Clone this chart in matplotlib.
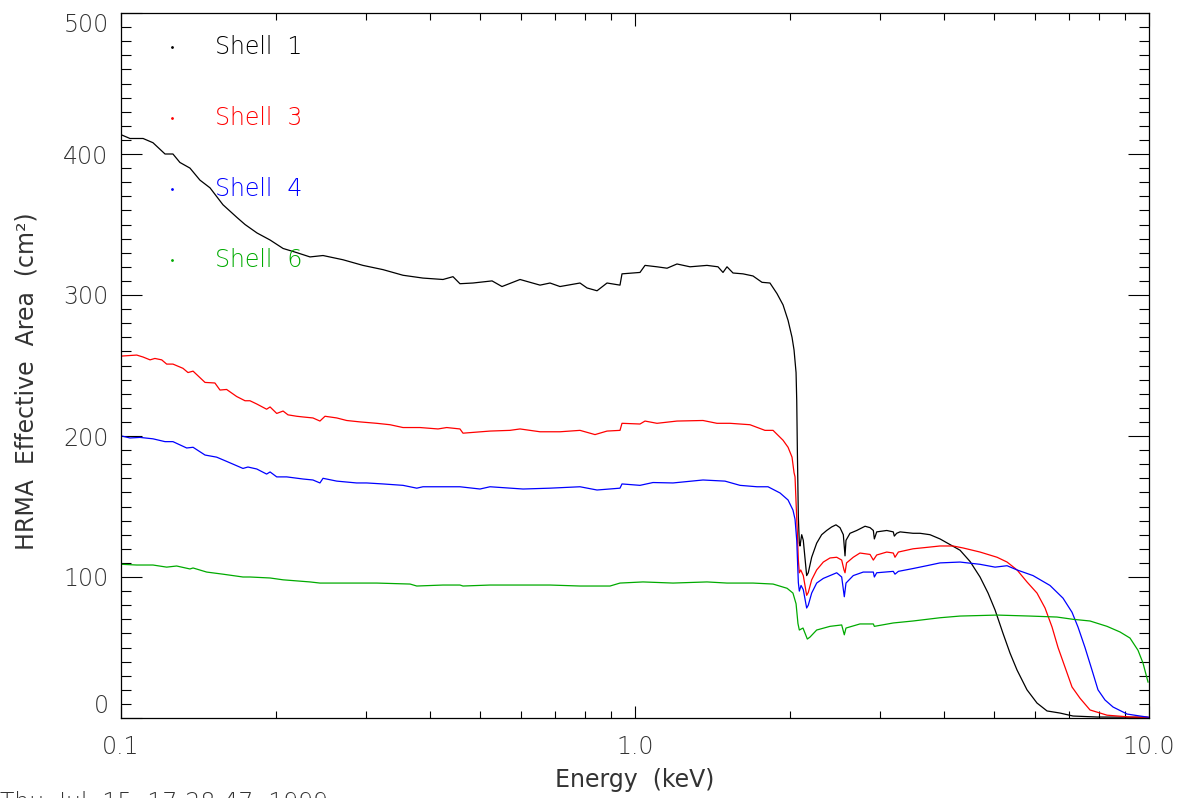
import matplotlib
matplotlib.use('Agg')
import matplotlib.pyplot as plt
from matplotlib.ticker import FixedLocator, NullFormatter
from matplotlib import font_manager as fm

# ---------------- data ----------------
e1 = [0.1003, 0.1041, 0.1104, 0.1154, 0.1218, 0.1262, 0.1302, 0.1362, 0.1424, 0.1490,
      0.1579, 0.1681, 0.1743, 0.1839, 0.1950, 0.2067, 0.2200, 0.2332, 0.2472, 0.2703,
      0.2956, 0.3233, 0.3537, 0.3868, 0.4231, 0.4425, 0.4565, 0.4839, 0.5271, 0.5511,
      0.5975, 0.6535, 0.6834, 0.7146, 0.7816, 0.8066, 0.8436, 0.8822, 0.9350, 0.9434,
      1.0226, 1.0459, 1.1036, 1.1544, 1.2069, 1.2794, 1.3806, 1.4503, 1.4832, 1.5101,
      1.5513, 1.6222, 1.6965, 1.7662, 1.8305, 1.8890, 1.9409, 1.9851, 2.0207, 2.0390,
      2.0575, 2.0638, 2.0695, 2.0787, 2.0879, 2.0941, 2.1102, 2.1253, 2.1576, 2.1732,
      2.2066, 2.2566, 2.3076, 2.3600, 2.4134, 2.4604, 2.5049, 2.5427, 2.5621, 2.5733,
      2.6200, 2.7000, 2.8027, 2.8660, 2.9086, 2.9219, 2.9530, 3.0888, 3.1806, 3.1951,
      3.2291, 3.279, 3.4748, 3.585, 3.749, 3.921, 4.101, 4.289, 4.486, 4.691,
      4.863, 5.018, 5.200, 5.366, 5.537, 5.789, 6.055, 6.333, 6.714, 7.115,
      7.925, 9.911]
a1 = [413.5, 411, 411, 408, 400, 400, 394, 390, 381.5, 376,
      364, 355, 350, 344, 339, 333, 330, 327, 328, 325,
      321, 318, 314, 312, 311, 313, 308, 308.5, 310, 306,
      311, 307, 308.5, 306, 308.5, 305, 303, 308.5, 307, 315,
      316, 321, 320, 319, 322, 320, 321, 320, 316, 320,
      315.6, 315, 313.5, 309, 308.5, 301, 293, 282, 270, 261,
      245, 225, 190, 142.5, 124, 122, 130, 126, 101, 103,
      114, 124, 130, 133, 135.5, 137, 135, 130, 115, 126,
      131, 133, 136, 135, 133, 127, 132, 133, 132, 129,
      131, 132, 131, 131, 130, 127, 123, 119, 111, 100,
      88.6, 76.6, 60, 46, 34, 20, 10.6, 5, 3.5, 1.4,
      0.7, 0.5]

e3 = [0.1003, 0.1073, 0.1104, 0.1139, 0.1164, 0.1200, 0.1227, 0.1262, 0.1320, 0.1350,
      0.1381, 0.1457, 0.1523, 0.1558, 0.1605, 0.1679, 0.1743, 0.1782, 0.1837, 0.1920,
      0.1950, 0.2009, 0.2067, 0.2113, 0.2197, 0.2260, 0.2363, 0.2438, 0.2494, 0.2629,
      0.2748, 0.2917, 0.3144, 0.3337, 0.3537, 0.3818, 0.4138, 0.4302, 0.4565, 0.4628,
      0.5223, 0.5711, 0.5975, 0.6535, 0.7146, 0.7816, 0.8360, 0.8822, 0.9350, 0.9434,
      1.0226, 1.0459, 1.1036, 1.2069, 1.3561, 1.4436, 1.5305, 1.6736, 1.7900, 1.8560,
      1.9409, 1.9851, 2.0207, 2.0390, 2.0481, 2.0575, 2.0695, 2.0787, 2.0879, 2.1010,
      2.1253, 2.1576, 2.1732, 2.2066, 2.2566, 2.3246, 2.3953, 2.4683, 2.5241, 2.5504,
      2.5621, 2.5800, 2.6584, 2.7393, 2.8660, 2.9086, 2.9530, 3.0888, 3.1806, 3.205,
      3.254, 3.4748, 3.694, 3.921, 4.156, 4.347, 4.691, 5.063, 5.295, 5.537,
      5.789, 6.055, 6.277, 6.477, 6.653, 6.865, 7.083, 7.342, 7.678, 8.286,
      9.184, 10.0]
a3 = [256.7, 257.4, 256, 254, 255, 254, 251, 251, 248, 245,
      246, 238, 237.6, 232.6, 233, 228, 225, 225, 222.7, 219,
      220.6, 216, 217.7, 215, 214, 213.5, 212.8, 210.6, 214, 212.8,
      211, 210, 209, 208, 206, 206, 205, 206, 205, 202,
      203.5, 204, 205, 203, 203, 204, 201, 203.5, 204, 209,
      208.5, 210.6, 209, 210.6, 211, 209, 209, 208, 204, 204,
      197, 192, 185, 174, 171, 153, 131, 112, 103, 105,
      101, 87, 89, 98, 105, 110.6, 113.5, 114, 112, 105,
      103, 110, 114, 117, 116, 112, 115.6, 117.7, 117, 114,
      117.7, 120, 121, 122, 122, 120.6, 117.7, 114, 110.6, 105,
      96.5, 88.6, 78, 64.5, 50, 36, 22, 14, 5.7, 2,
      0.7, 0.5]

e4 = [0.1003, 0.1041, 0.1089, 0.1154, 0.1218, 0.1262, 0.1342, 0.1381, 0.1457, 0.1535,
      0.1605, 0.1727, 0.1766, 0.1837, 0.1920, 0.1950, 0.2009, 0.2101, 0.2260, 0.2363,
      0.2438, 0.2472, 0.2629, 0.2873, 0.3006, 0.3233, 0.3537, 0.3762, 0.3868, 0.4231,
      0.4565, 0.4994, 0.5223, 0.6055, 0.6834, 0.7816, 0.8436, 0.9350, 0.9434, 1.0226,
      1.0839, 1.1856, 1.3561, 1.4966, 1.6006, 1.7272, 1.8145, 1.9149, 1.9851, 2.0290,
      2.0481, 2.0638, 2.0787, 2.0879, 2.1040, 2.1253, 2.1576, 2.1732, 2.2066, 2.2566,
      2.3246, 2.3953, 2.4683, 2.5241, 2.5539, 2.5733, 2.6584, 2.7800, 2.9086, 2.9219,
      2.9530, 3.1806, 3.205, 3.254, 3.4748, 3.694, 3.921, 4.289, 4.691, 5.018,
      5.295, 5.537, 5.948, 6.418, 6.803, 7.083, 7.276, 7.507, 7.746, 7.957,
      8.210, 8.511, 9.065, 9.605, 10.0]
a4 = [200, 198.6, 199, 198, 196, 196, 191.5, 192, 186.5, 185,
      182, 177, 178, 176.6, 173, 174.5, 171, 171, 169.5, 168.8,
      166.7, 170, 168, 166.7, 166.7, 166, 165, 163, 164, 164,
      164, 162.4, 164, 162.4, 163, 164, 161.7, 163, 166, 165,
      167, 166.7, 168.8, 168, 165, 164, 164, 159.6, 154.6, 147.5,
      141, 126, 96, 90, 94, 91, 78, 80, 88.6, 95.7,
      99, 101, 103, 100, 86, 95.7, 101, 103.5, 103.5, 100,
      103, 104, 102, 104, 106, 108, 110, 110.6, 109, 107,
      108, 105, 101, 94, 85, 75, 64.5, 50, 34, 20,
      12.8, 7.8, 2.8, 1.4, 0.5]

e6 = [0.1003, 0.1073, 0.1154, 0.1227, 0.1283, 0.1362, 0.1381, 0.1468, 0.1579, 0.1727,
      0.1782, 0.1950, 0.2067, 0.2332, 0.2438, 0.2703, 0.3144, 0.3651, 0.3762, 0.4231,
      0.4565, 0.4628, 0.5223, 0.6055, 0.6834, 0.7816, 0.8942, 0.9350, 1.0366, 1.1856,
      1.3806, 1.5101, 1.6965, 1.8560, 1.9762, 2.0290, 2.0575, 2.0751, 2.0879, 2.1225,
      2.1640, 2.1903, 2.2566, 2.3953, 2.5241, 2.5539, 2.5733, 2.7393, 2.9086, 2.9219,
      3.1806, 3.4748, 3.921, 4.289, 5.063, 5.868, 6.622, 7.115, 7.678, 8.286,
      8.783, 9.184, 9.520, 9.734, 9.956]
a6 = [109, 108.5, 108.5, 107, 107.8, 105.7, 106.4, 103.5, 102, 100,
      100, 99.3, 98, 96.5, 95.7, 95.7, 95.7, 95, 93.6, 94.3,
      94.3, 93.6, 94.3, 94.3, 94.3, 93.6, 93.6, 95.7, 96.5, 95.7,
      96.5, 95.7, 95.7, 95, 92, 88.6, 81, 67, 62.4, 63.8,
      56, 57.4, 62.4, 65, 66, 59, 63.8, 66.7, 66.7, 65,
      67.4, 68.8, 71.1, 72.3, 73, 72.3, 71.6, 70, 68.8, 65,
      61, 56.7, 48, 39, 25.5]

series_names = ['Shell  1', 'Shell  3', 'Shell  4', 'Shell  6']
series_colors = ['#000000', '#ff0000', '#0000ff', '#00aa00']
x_tick_vals = [0.1, 1.0, 10.0]
x_tick_labels = ['0.1', '1.0', '10.0']
y_tick_vals = [0, 100, 200, 300, 400, 500]
footer = 'Thu  Jul  15  17:28:47  1999'

# ---------------- plot ----------------
names = {f.name for f in fm.fontManager.ttflist}
if 'DejaVu Sans ExtraLight' in names:
    FONT = ['DejaVu Sans ExtraLight', 'DejaVu Sans']
    WEIGHT = 'normal'
else:
    FONT = ['DejaVu Sans']
    WEIGHT = 'light'
TXT = '#333333'
plt.rcParams['font.family'] = FONT
plt.rcParams['font.weight'] = WEIGHT
FS = 17

fig = plt.figure(figsize=(11.81, 7.98), dpi=100)
ax = fig.add_axes([121 / 1181, 1 - 718 / 798, 1028 / 1181, 705 / 798])

data = [(e1, a1), (e3, a3), (e4, a4), (e6, a6)]
for (e, a), c in zip(data, series_colors):
    ax.plot(e, a, color=c, lw=0.9)

ax.set_xscale('log')
ax.set_xlim(0.1, 10)
ax.set_ylim(0, 500)

ax.xaxis.set_major_locator(FixedLocator(x_tick_vals))
ax.set_xticklabels(x_tick_labels)
minors = [m * d for d in (0.1, 1.0) for m in range(2, 10)]
ax.xaxis.set_minor_locator(FixedLocator(minors))
ax.xaxis.set_minor_formatter(NullFormatter())
ax.yaxis.set_major_locator(FixedLocator(y_tick_vals))
ax.set_yticklabels([str(v) for v in y_tick_vals])
ax.yaxis.set_minor_locator(FixedLocator(list(range(10, 500, 10))))

ax.tick_params(axis='x', which='major', direction='in', top=True, length=9,
               width=0.8, labelsize=FS, pad=12, labelcolor=TXT)
ax.tick_params(axis='x', which='minor', direction='in', top=True, length=5, width=0.8)
ax.tick_params(axis='y', which='major', direction='in', right=True, length=15,
               width=0.8, labelsize=FS, pad=9, labelcolor=TXT)
ax.tick_params(axis='y', which='minor', direction='in', right=True, length=7, width=0.8)
for sp in ax.spines.values():
    sp.set_linewidth(0.9)

# IDL keeps the end labels inside the axis span
ylabels = ax.get_yticklabels()
ylabels[0].set_verticalalignment('bottom')
ylabels[-1].set_verticalalignment('top')

ax.set_xlabel('Energy  (keV)', fontsize=FS, color=TXT, labelpad=7)
ax.set_ylabel('HRMA  Effective  Area  (cm²)', fontsize=FS, color=TXT)
ax.yaxis.set_label_coords(-0.08, 0.478)

# legend (IDL style: small dot + coloured label)
leg_y = [0.9518, 0.851, 0.7504, 0.6496]
for name, c, yy in zip(series_names, series_colors, leg_y):
    ax.plot([0.0496], [yy], marker='.', ms=2, color=c, transform=ax.transAxes, ls='none')
    ax.text(0.0914, yy, name, color=c, fontsize=FS, va='center', ha='left',
            transform=ax.transAxes)

fig.text(0.0, 1 - 791 / 798, footer, fontsize=FS, color=TXT, va='top', ha='left')

fig.savefig('out.png', dpi=100)
